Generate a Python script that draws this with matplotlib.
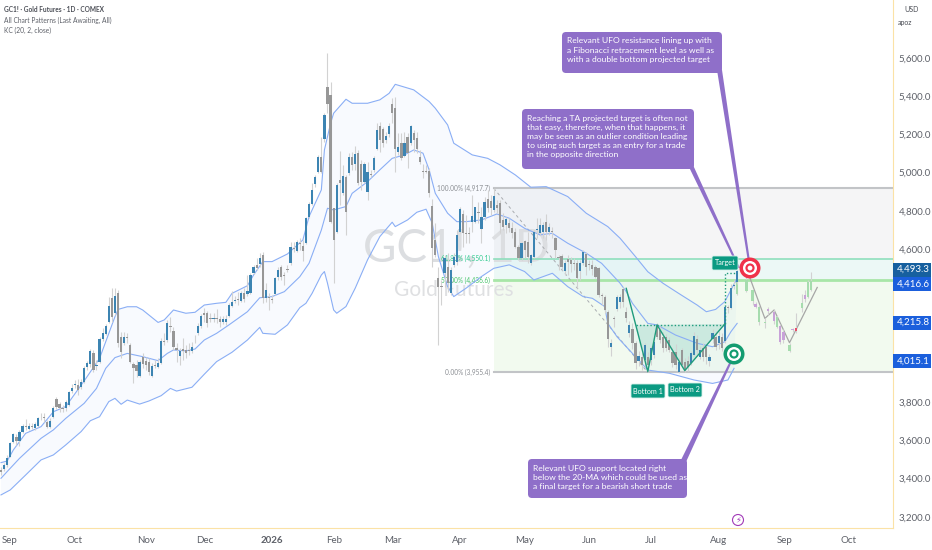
import numpy as np
import matplotlib
matplotlib.use("Agg")
import matplotlib.pyplot as plt
from matplotlib.patches import FancyBboxPatch, Polygon, Rectangle

plt.rcParams["font.family"] = ["Lato", "DejaVu Sans"]

# candles, one row per ten bars
opens = [
    3445, 3449, 3472, 3515, 3590, 3620, 3599, 3646, 3677, 3660,
    3677, 3667, 3677, 3720, 3724, 3698, 3672, 3721, 3815, 3789,
    3770, 3768, 3785, 3860, 3888, 3890, 3878, 3907, 3982, 4000,
    4059, 3990, 4012, 4129, 4157, 4221, 4343, 4265, 4369, 4143,
    4112, 4141, 4099, 3998, 3995, 3937, 4035, 4015, 4012, 3937,
    3995, 3983, 4003, 4122, 4125, 4200, 4174, 4082, 4044, 4080,
    4073, 4073, 4065, 4138, 4164, 4199, 4268, 4265, 4239, 4233,
    4237, 4234, 4218, 4221, 4253, 4303, 4328, 4336, 4331, 4373,
    4366, 4370, 4478, 4518, 4523, 4567, 4343, 4352, 4340, 4366,
    4457, 4505, 4466, 4495, 4527, 4605, 4593, 4634, 4619, 4631,
    4767, 4837, 4940, 5006, 5084, 5175, 5450, 5407, 4814, 4689,
    4962, 4892, 4980, 5000, 5084, 5044, 5105, 5045, 4953, 4900,
    4995, 5014, 5123, 5244, 5226, 5170, 5200, 5359, 5336, 5106,
    5153, 5089, 5188, 5153, 5205, 5183, 5083, 5007, 5010, 5008,
    4825, 4648, 4447, 4407, 4473, 4508, 4369, 4517, 4534, 4691,
    4784, 4682, 4682, 4743, 4743, 4795, 4703, 4766, 4860, 4854,
    4805, 4831, 4843, 4753, 4727, 4739, 4709, 4692, 4613, 4552,
    4643, 4640, 4530, 4561, 4702, 4687, 4692, 4744, 4692, 4694,
    4657, 4560, 4564, 4486, 4547, 4544, 4530, 4526, 4488, 4526,
    4575, 4520, 4518, 4505, 4500, 4359, 4352, 4273, 4091, 4242,
    4286, 4326, 4390, 4273, 4160, 4181, 4108, 4017, 4038, 4021,
    4038, 4021, 4047, 4204, 4178, 4143, 4140, 4125, 4064, 4064,
    3960, 4073, 4012, 4017, 4003, 4047, 4129, 4038, 4085, 4090,
    4017, 4129, 4139, 4108, 4140, 4120, 4296, 4291, 4405, 4430,
]
highs = [
    3463, 3484, 3524, 3594, 3637, 3634, 3655, 3686, 3710, 3693,
    3690, 3698, 3724, 3742, 3742, 3707, 3716, 3780, 3825, 3803,
    3785, 3811, 3859, 3895, 3916, 3920, 3921, 3989, 4014, 4076,
    4073, 4021, 4139, 4186, 4209, 4348, 4395, 4395, 4387, 4169,
    4169, 4160, 4108, 4012, 4021, 4021, 4056, 4038, 4030, 4003,
    4021, 4030, 4134, 4160, 4230, 4244, 4195, 4112, 4082, 4134,
    4099, 4108, 4117, 4152, 4213, 4261, 4291, 4279, 4265, 4265,
    4286, 4248, 4248, 4256, 4317, 4383, 4356, 4378, 4383, 4396,
    4465, 4474, 4518, 4553, 4579, 4587, 4422, 4370, 4361, 4457,
    4509, 4518, 4483, 4518, 4635, 4640, 4648, 4657, 4648, 4770,
    4849, 4945, 4988, 5093, 5189, 5311, 5625, 5476, 4814, 4945,
    5114, 5041, 4988, 5102, 5110, 5140, 5119, 5066, 5057, 5057,
    5014, 5087, 5258, 5266, 5240, 5214, 5258, 5388, 5394, 5205,
    5209, 5214, 5205, 5249, 5223, 5214, 5118, 5045, 5040, 5022,
    4865, 4735, 4508, 4439, 4569, 4578, 4508, 4578, 4700, 4822,
    4804, 4778, 4717, 4883, 4822, 4848, 4822, 4874, 4909, 4884,
    4918, 4857, 4857, 4788, 4770, 4761, 4744, 4709, 4622, 4640,
    4648, 4692, 4575, 4700, 4761, 4761, 4744, 4784, 4735, 4718,
    4666, 4570, 4575, 4544, 4570, 4561, 4552, 4544, 4544, 4596,
    4587, 4544, 4544, 4518, 4509, 4369, 4361, 4282, 4130, 4248,
    4360, 4365, 4400, 4300, 4225, 4215, 4120, 4070, 4055, 4110,
    4060, 4095, 4135, 4215, 4200, 4165, 4155, 4140, 4085, 4105,
    4030, 4085, 4030, 4040, 4070, 4165, 4150, 4095, 4110, 4105,
    4050, 4180, 4170, 4170, 4160, 4310, 4310, 4420, 4440, 4498,
]
lows = [
    3419, 3442, 3463, 3512, 3585, 3576, 3571, 3637, 3655, 3655,
    3662, 3655, 3672, 3707, 3698, 3663, 3663, 3716, 3763, 3750,
    3750, 3756, 3780, 3850, 3872, 3838, 3867, 3902, 3968, 3982,
    3960, 3968, 4007, 4122, 4151, 4212, 4221, 4256, 4090, 4029,
    4099, 4108, 4003, 3902, 3934, 3930, 3977, 3969, 3943, 3930,
    3977, 3977, 4000, 4099, 4117, 4169, 4073, 4012, 3995, 4021,
    4030, 4047, 4056, 4112, 4152, 4186, 4221, 4195, 4221, 4221,
    4213, 4195, 4209, 4204, 4244, 4296, 4317, 4309, 4326, 4326,
    4356, 4366, 4471, 4492, 4509, 4317, 4326, 4282, 4317, 4361,
    4439, 4439, 4413, 4483, 4518, 4587, 4587, 4596, 4540, 4628,
    4762, 4832, 4927, 4997, 4997, 5163, 5311, 4736, 4425, 4683,
    4832, 4884, 4675, 4988, 5014, 5014, 4936, 4909, 4944, 4857,
    4975, 5005, 5118, 5110, 5136, 5153, 5188, 5258, 5005, 5092,
    5066, 5083, 5022, 5144, 5110, 5101, 5045, 4970, 4996, 4874,
    4508, 4560, 4098, 4308, 4404, 4377, 4360, 4508, 4517, 4682,
    4613, 4630, 4630, 4691, 4735, 4735, 4630, 4752, 4796, 4779,
    4796, 4788, 4683, 4700, 4683, 4692, 4657, 4605, 4544, 4544,
    4552, 4526, 4517, 4552, 4657, 4674, 4657, 4648, 4674, 4657,
    4552, 4491, 4491, 4465, 4465, 4483, 4491, 4395, 4439, 4518,
    4465, 4491, 4465, 4448, 4352, 4308, 4265, 4090, 4040, 4195,
    4275, 4290, 4300, 4220, 4140, 4080, 3975, 3990, 3970, 3985,
    3960, 3995, 4030, 4130, 4110, 4060, 4070, 4060, 3985, 3975,
    3950, 3985, 3958, 3965, 3995, 4040, 4050, 4025, 4015, 4000,
    3990, 4110, 4075, 4080, 4065, 4110, 4264, 4285, 4390, 4420,
]
closes = [
    3437, 3472, 3510, 3588, 3632, 3599, 3646, 3676, 3670, 3677,
    3672, 3684, 3716, 3725, 3717, 3672, 3703, 3771, 3777, 3768,
    3765, 3803, 3852, 3872, 3894, 3864, 3906, 3977, 4003, 4069,
    3968, 3994, 4130, 4160, 4200, 4303, 4247, 4357, 4108, 4064,
    4143, 4136, 4012, 3977, 3965, 4009, 4000, 3995, 3960, 3991,
    3990, 4003, 4120, 4113, 4213, 4194, 4091, 4073, 4065, 4065,
    4056, 4068, 4091, 4133, 4199, 4253, 4256, 4216, 4234, 4237,
    4233, 4218, 4235, 4235, 4308, 4322, 4333, 4333, 4370, 4338,
    4383, 4465, 4506, 4500, 4553, 4343, 4387, 4347, 4335, 4448,
    4492, 4457, 4461, 4490, 4614, 4600, 4635, 4629, 4593, 4762,
    4835, 4910, 4980, 5084, 5006, 5302, 5358, 4744, 4648, 4933,
    4945, 4983, 4797, 5081, 5041, 5098, 4948, 4953, 5045, 5005,
    4990, 5078, 5223, 5170, 5157, 5191, 5244, 5310, 5122, 5132,
    5075, 5157, 5101, 5244, 5170, 5122, 5057, 5002, 5005, 4892,
    4604, 4569, 4404, 4402, 4552, 4421, 4491, 4557, 4674, 4810,
    4682, 4677, 4677, 4773, 4818, 4790, 4766, 4848, 4813, 4814,
    4878, 4814, 4735, 4718, 4756, 4709, 4687, 4613, 4552, 4631,
    4596, 4561, 4570, 4692, 4707, 4727, 4727, 4692, 4718, 4689,
    4596, 4555, 4505, 4530, 4535, 4523, 4525, 4448, 4530, 4587,
    4505, 4515, 4495, 4457, 4361, 4354, 4282, 4129, 4111, 4237,
    4348, 4352, 4326, 4239, 4204, 4108, 4003, 4042, 3995, 4099,
    3995, 4082, 4117, 4143, 4125, 4082, 4082, 4073, 4003, 3995,
    4012, 3995, 3968, 3982, 4056, 4148, 4073, 4073, 4035, 4038,
    4035, 4160, 4090, 4146, 4082, 4298, 4290, 4395, 4415, 4488,
]

# projected bars after the last real candle
ghost_idx = [239, 242, 244, 245, 246, 248, 249, 251, 252, 253, 254, 256, 257, 258, 260, 261, 262, 263]
ghost_open = [4365, 4383, 4386, 4312, 4299, 4212, 4285, 4273, 4243, 4198, 4168, 4069, 4180, 4172, 4290, 4360, 4351, 4386]
ghost_close = [4439, 4439, 4330, 4300, 4221, 4214, 4276, 4226, 4195, 4116, 4125, 4099, 4175, 4186, 4320, 4337, 4430, 4433]
ghost_high = [4445, 4470, 4390, 4325, 4310, 4240, 4300, 4285, 4255, 4210, 4180, 4110, 4190, 4265, 4365, 4385, 4440, 4482]
ghost_low = [4360, 4375, 4310, 4290, 4205, 4186, 4255, 4210, 4190, 4105, 4110, 4060, 4165, 4160, 4270, 4325, 4345, 4380]
ghost_kind = ["g", "g", "g", "p", "g", "g", "p", "p", "g", "p", "p", "g", "p", "r", "g", "p", "g", "g"]
proj_idx = [243, 248, 251, 256, 265]
proj_val = [4456, 4238, 4282, 4111, 4400]

# Keltner channel
upper_idx = [0, 2, 4, 8, 13, 17, 21, 27, 32, 34, 37, 38, 41, 44, 46, 51, 53, 56, 60, 63, 66, 70, 73, 75, 80, 82,
             85, 88, 93, 98, 100, 104, 105, 107, 108, 112, 114, 119, 123, 126, 128, 134, 139, 141, 145, 147,
             153, 158, 162, 167, 172, 177, 184, 190, 197, 201, 206, 210, 215, 220, 226, 229, 232, 235, 237, 239]
upper_val = [3484, 3492, 3550, 3637, 3672, 3750, 3777, 3911, 4029, 4116, 4247, 4285, 4299, 4299, 4282, 4217, 4230,
             4282, 4265, 4270, 4308, 4317, 4322, 4369, 4409, 4465, 4535, 4535, 4575, 4648, 4770, 4910, 5119, 5258,
             5311, 5384, 5363, 5363, 5381, 5415, 5462, 5433, 5372, 5337, 5250, 5154, 5093, 5075, 5041, 4988, 4924,
             4927, 4875, 4788, 4718, 4657, 4561, 4482, 4421, 4369, 4308, 4273, 4285, 4326, 4387, 4448]
mid_idx = [0, 2, 6, 13, 17, 21, 27, 31, 34, 37, 41, 46, 51, 54, 56, 60, 63, 66, 70, 74, 80, 84, 88, 92, 97, 100,
           104, 106, 108, 112, 114, 119, 123, 127, 131, 134, 137, 139, 141, 145, 148, 151, 156, 161, 165, 170,
           175, 179, 184, 190, 195, 201, 203, 205, 210, 213, 219, 226, 231, 235, 237, 239]
mid_val = [3402, 3437, 3506, 3611, 3655, 3715, 3794, 3872, 3977, 4033, 4055, 4038, 4017, 4055, 4073, 4068, 4078,
           4125, 4160, 4204, 4273, 4346, 4352, 4378, 4456, 4526, 4700, 4814, 4805, 4823, 4892, 4953, 5015, 5075,
           5093, 5119, 5102, 5015, 4892, 4788, 4744, 4744, 4753, 4784, 4762, 4709, 4675, 4683, 4631, 4579, 4526,
           4422, 4378, 4317, 4212, 4204, 4151, 4108, 4090, 4116, 4169, 4212]
lower_idx = [0, 3, 8, 13, 17, 21, 26, 29, 32, 35, 37, 39, 41, 45, 48, 52, 55, 57, 62, 66, 70, 75, 80, 84, 85, 89,
             93, 97, 99, 101, 104, 105, 106, 108, 109, 112, 115, 119, 123, 127, 128, 132, 135, 138, 140, 142, 145,
             147, 151, 156, 160, 165, 170, 173, 179, 184, 189, 192, 196, 197, 200, 205, 210, 217, 225, 231, 236, 238]
lower_val = [3315, 3341, 3419, 3498, 3524, 3576, 3646, 3703, 3724, 3803, 3820, 3789, 3811, 3790, 3806, 3834, 3872,
             3858, 3878, 3946, 4012, 4061, 4125, 4191, 4160, 4155, 4204, 4294, 4317, 4369, 4465, 4483, 4422, 4282,
             4265, 4300, 4396, 4544, 4666, 4741, 4718, 4753, 4793, 4809, 4736, 4561, 4404, 4352, 4396, 4457, 4500,
             4518, 4483, 4439, 4474, 4404, 4352, 4343, 4300, 4212, 4142, 4055, 3968, 3951, 3916, 3898, 3916, 3977]

# fibonacci tool and double bottom
fib_start = 160
fib_levels = [4917.7, 4550.1, 4436.6, 3955.4]
fib_text = ["100.00% (4,917.7)", "61.80% (4,550.1)", "50.00% (4,436.6)", "0.00% (3,955.4)"]
fib_colors = ["#c2c4c7", "#8fdfbd", "#a8e6a8", "#c2c4c7"]
fib_text_colors = ["#8a8d92", "#2fca8e", "#45c46a", "#8a8d92"]
fib_fills = ["#f5f5f6", "#ecf8f6", "#f2faef"]
zig_idx = [203, 210, 213, 222, 235]
zig_val = [4395, 3960, 4204, 3965, 4209]
neck_idx = [206, 235, 235, 239]
neck_val = [4204, 4204, 4478, 4478]

tick_idx = [2.9, 24, 47, 66, 88, 108, 127.3, 149, 170, 191, 211, 233, 254.4, 275]
tick_names = ["Sep", "Oct", "Nov", "Dec", "2026", "Feb", "Mar", "Apr", "May", "Jun", "Jul", "Aug", "Sep", "Oct"]
price_ticks = [3200, 3400, 3600, 3800, 4600, 4800, 5000, 5200, 5400, 5600]
tags = [4493.3, 4416.6, 4215.8, 4015.1]
tag_colors = ["#17609f", "#1b5fdc", "#1b5fdc", "#1b5fdc"]

UP = "#3c84b2"
DOWN = "#979797"
WICK = "#d2d2d2"
KC = "#8aaef5"
TEAL = "#0b9a82"
PURPLE = "#8f6fc9"

fig = plt.figure(figsize=(9.32, 5.5), dpi=100, facecolor="white")
ax = fig.add_axes([0, 22 / 550, 893 / 932, 528 / 550])
ax.set_xlim(-0.325, 289.6)
ax.set_ylim(3142, 5903)

# fib bands and levels
for i in range(3):
    ax.fill_between([fib_start, 290], fib_levels[i + 1], fib_levels[i], color=fib_fills[i], lw=0, zorder=1)

# watermark
ax.text(117.5, 4605, "GC1!, 1D", fontsize=33, color="#dcdee1", ha="left", va="center", zorder=1.6)
ax.text(127.6, 4387, "Gold Futures", fontsize=15, color="#dfe0e2", ha="left", va="center", zorder=1.6)

for lev, col, txt, tcol, lw in zip(fib_levels, fib_colors, fib_text, fib_text_colors, [1.5, 1.2, 2, 1.5]):
    ax.plot([fib_start, 290], [lev, lev], color=col, lw=lw, zorder=2)
    ax.text(fib_start - 1.2, lev, txt, color=tcol, fontsize=4.7, ha="right", va="center", zorder=2)
ax.plot([fib_start, 210], [fib_levels[0], fib_levels[3]], color="#a9acb0", lw=0.7, ls=(0, (3, 3)), zorder=2)

# channel
ax.fill(upper_idx + lower_idx[::-1], upper_val + lower_val[::-1], color="#2b7cf0", alpha=0.03, lw=0, zorder=1.5)
ax.plot(upper_idx, upper_val, color=KC, lw=0.8, zorder=3)
ax.plot(mid_idx, mid_val, color=KC, lw=0.8, zorder=3)
ax.plot(lower_idx, lower_val, color=KC, lw=0.8, zorder=3)

# candles
idx = np.arange(len(opens))
o = np.array(opens)
c = np.array(closes)
body = np.maximum(np.abs(c - o), 5)
colors = [UP if b > a else DOWN for a, b in zip(o, c)]
ax.vlines(idx, lows, highs, color=WICK, lw=0.8, zorder=4)
ax.bar(idx, body, bottom=np.minimum(o, c), width=0.72, color=colors, lw=0, zorder=5)

# projected path
ghost_map = {"g": "#a6dcae", "p": "#c8a2d8", "r": "#e8506a"}
ax.plot(proj_idx, proj_val, color="#a6a6a6", lw=0.9, zorder=3.5)
g_o = np.array(ghost_open)
g_c = np.array(ghost_close)
ax.vlines(ghost_idx, ghost_low, ghost_high, color="#d2d2d2", lw=0.8, zorder=3.6)
ax.bar(ghost_idx, np.maximum(np.abs(g_c - g_o), 5), bottom=np.minimum(g_o, g_c), width=0.75,
       color=[ghost_map[k] for k in ghost_kind], lw=0, zorder=3.7)

# double bottom drawing
ax.fill([206, 210, 213], [4204, 3960, 4204], color="#0b9a82", alpha=0.14, lw=0, zorder=2.5)
ax.fill([213, 222, 235], [4204, 3965, 4209], color="#0b9a82", alpha=0.14, lw=0, zorder=2.5)
ax.plot(zig_idx, zig_val, color="#1f9b7c", lw=1, zorder=6)
ax.plot(neck_idx, neck_val, color="#1f9b7c", lw=1, ls=(0, (1, 1.5)), zorder=6)

# axes cosmetics
for name in ["left", "top"]:
    ax.spines[name].set_visible(False)
ax.spines["right"].set_color("#fbe2a6")
ax.spines["bottom"].set_color("#fbe2a6")
ax.yaxis.tick_right()
ax.set_yticks(price_ticks)
ax.set_yticklabels([f"{v:,.1f}" for v in price_ticks], fontsize=7, color="#5d6068")
ax.set_xticks(tick_idx)
ax.set_xticklabels(tick_names, fontsize=7, color="#5d6068")
ax.get_xticklabels()[4].set_fontweight("bold")
ax.tick_params(length=0, pad=5.5)
ax.tick_params(axis="y", pad=4)

yt = ax.get_yaxis_transform()
for val, col in zip(tags, tag_colors):
    ax.add_patch(Rectangle((1.0, val - 37), 38 / 893, 74, transform=yt, fc=col, ec="none", clip_on=False, zorder=9))
    ax.text(1.0045, val, f"{val:,.1f}", transform=yt, fontsize=7, color="white", va="center", ha="left",
            clip_on=False, zorder=10)

# overlay in pixels for the drawn callouts and labels
ov = fig.add_axes([0, 0, 1, 1], facecolor="none")
ov.set_xlim(0, 932)
ov.set_ylim(550, 0)
ov.axis("off")

ov.text(4, 10, "GC1! · Gold Futures · 1D · COMEX", fontsize=4.7, color="#4a4d55", va="center", fontweight="bold")
ov.text(4, 20, "All Chart Patterns (Last Awaiting, All)", fontsize=4.8, color="#5d6068", va="center")
ov.text(4, 30, "KC (20, 2, close)", fontsize=4.8, color="#5d6068", va="center")
ov.text(912, 9, "USD", fontsize=5, color="#4a4d55", va="center", ha="center")
ov.text(905, 23, "apoz", fontsize=5, color="#4a4d55", va="center", ha="center")


def callout(x0, y0, x1, y1, tail, txt):
    ov.add_patch(Polygon(tail, closed=True, fc=PURPLE, ec="none", zorder=2))
    ov.add_patch(FancyBboxPatch((x0, y0), x1 - x0, y1 - y0, boxstyle="round,pad=0,rounding_size=4",
                                fc=PURPLE, ec="none", zorder=3))
    ov.text(x0 + 5, y0 + 5.5, txt, color="white", fontsize=6.1, va="top", ha="left", linespacing=1.36, zorder=4)


def target(x, y, col):
    for r, fc in [(10.5, col), (7, "white"), (4.6, col), (2.4, "white")]:
        ov.add_patch(plt.Circle((x, y), r, fc=fc, ec="none", zorder=6))


def tag_box(x0, y0, x1, y1, txt):
    ov.add_patch(FancyBboxPatch((x0, y0), x1 - x0, y1 - y0, boxstyle="round,pad=0,rounding_size=1.5",
                                fc=TEAL, ec="#d6efe9", lw=0.6, zorder=5))
    ov.text((x0 + x1) / 2, (y0 + y1) / 2, txt, color="white", fontsize=5.2, ha="center", va="center", zorder=6)


callout(562, 32, 722, 73, [(717, 70), (722, 70), (751, 268), (749, 268)],
        "Relevant UFO resistance lining up with\na Fibonacci retracement level as well as\nwith a double bottom projected target")
callout(522, 109, 694, 169, [(688, 165), (693, 165), (740, 268), (738, 268)],
        "Reaching a TA projected target is often not\nthat easy, therefore, when that happens, it\n"
        "may be seen as an outlier condition leading\nto using such target as an entry for a trade\n"
        "in the opposite direction")
callout(528, 459, 687, 498, [(680, 462), (686, 462), (735, 355), (733, 355)],
        "Relevant UFO support located right\nbelow the 20-MA which could be used as\n"
        "a final target for a bearish short trade")

target(750, 268, "#f0324a")
target(734, 354, "#139c70")
tag_box(631, 384, 665, 398, "Bottom 1")
tag_box(668, 383, 702, 397, "Bottom 2")
tag_box(712, 256, 738, 270, "Target")

ov.add_patch(plt.Circle((738, 520), 5.5, fc="white", ec="#a23bb8", lw=0.8, zorder=6))
ov.text(738, 520, "\u26a1", color="#a23bb8", fontsize=6, ha="center", va="center", zorder=7,
        family=["DejaVu Sans"])

fig.savefig("out.png", dpi=100)
